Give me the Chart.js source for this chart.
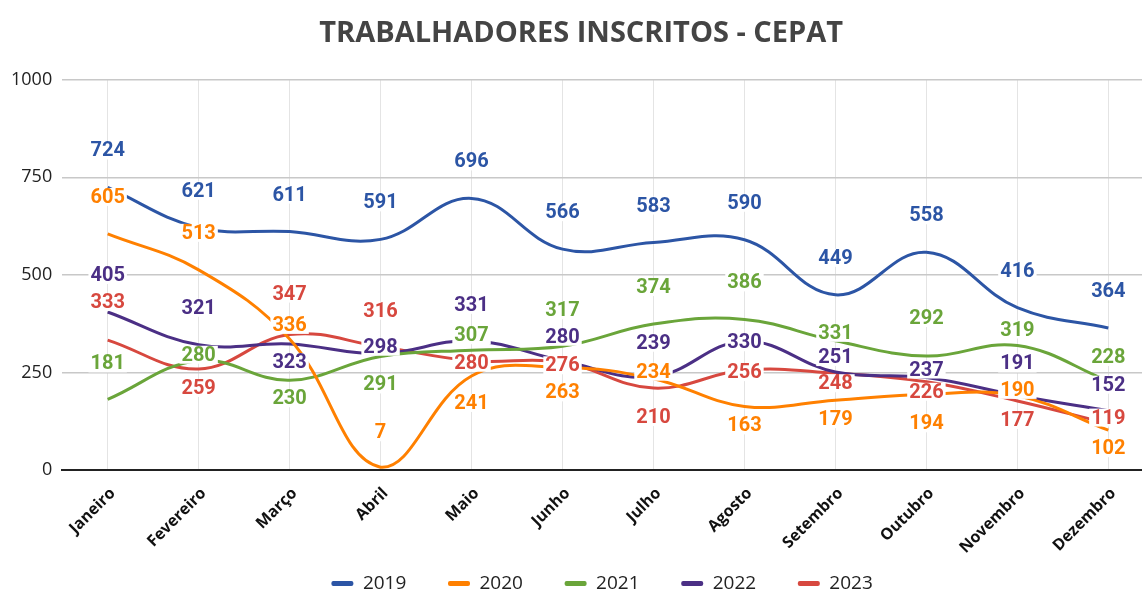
<!DOCTYPE html>
<html><head><meta charset="utf-8">
<script src="https://cdn.jsdelivr.net/npm/chart.js@4"></script>
<style>html,body{margin:0;padding:0;background:#fff}</style>
</head><body>
<canvas id="c" width="1142" height="593"></canvas>
<script>
// ---- data ----
const categories = ['Janeiro','Fevereiro','Março','Abril','Maio','Junho','Julho','Agosto','Setembro','Outubro','Novembro','Dezembro'];
const seriesNames = ['2019','2020','2021','2022','2023'];
const values2019 = [724,621,611,591,696,566,583,590,449,558,416,364];
const values2020 = [605,513,336,7,241,263,234,163,179,194,190,102];
const values2021 = [181,280,230,291,307,317,374,386,331,292,319,228];
const values2022 = [405,321,323,298,331,280,239,330,251,237,191,152];
const values2023 = [333,259,347,316,280,276,210,256,248,226,177,119];
const yTicks = [0,250,500,750,1000];

// ---- styling (label placement in px relative to each point, negative = above) ----
const colors = ['#2c55a5','#ff8000','#6aa53a','#4b2f85','#d7483f'];
const labelDy2019 = [-37,-37,-37,-37,-37,-37,-37,-37,-37,-37,-37,-37];
const labelDy2020 = [-37,-37,-14,-35,27,25,-7,19,19,29,-6,18];
const labelDy2021 = [-36,-6,18,28,-15,-36,-37,-37,-8,-38,-16,-24];
const labelDy2022 = [-37,-37,18,-7,-36,-24,-34,1,-15,-8,-32,-26];
const labelDy2023 = [-38,19,-41,-36,2,3,29,2,10,10,19,-6];

const seriesValues = [values2019, values2020, values2021, values2022, values2023];
const labelDy = [labelDy2019, labelDy2020, labelDy2021, labelDy2022, labelDy2023];

const pointLabels = {
  id: 'pointLabels',
  afterDatasetsDraw(chart) {
    const ctx = chart.ctx;
    ctx.save();
    ctx.font = 'bold 20px Roboto';
    ctx.textAlign = 'center';
    ctx.textBaseline = 'middle';
    chart.data.datasets.forEach((ds, di) => {
      const meta = chart.getDatasetMeta(di);
      meta.data.forEach((pt, i) => {
        const txt = String(seriesValues[di][i]);
        const x = pt.x, y = pt.y + labelDy[di][i];
        const w = ctx.measureText(txt).width;
        ctx.fillStyle = '#fff';
        ctx.fillRect(x - w / 2 - 2, y - 9, w + 4, 18);
        ctx.fillStyle = colors[di];
        ctx.fillText(txt, x, y + 1);
      });
    });
    ctx.restore();
  }
};

const legendGap = '\u2002\u2002\u2002\u2009';

new Chart(document.getElementById('c'), {
  type: 'line',
  data: {
    datasets: seriesNames.map((name, di) => ({
      label: name,
      data: seriesValues[di].map((v, i) => ({x: i, y: v})),
      borderColor: colors[di],
      backgroundColor: colors[di],
      borderWidth: 3,
      pointRadius: 0,
      tension: 0.4,
      fill: false
    }))
  },
  options: {
    responsive: false,
    animation: false,
    devicePixelRatio: 1,
    layout: {padding: {left: 1, right: 0, top: 0, bottom: -10}},
    plugins: {
      title: {
        display: true,
        text: '\u2002\u2009TRABALHADORES INSCRITOS - CEPAT',
        color: '#444',
        font: {family: 'Open Sans', size: 29, weight: 'bold', lineHeight: 1.2},
        padding: {top: 16, bottom: 29}
      },
      legend: {
        position: 'bottom',
        fullSize: false,
        labels: {
          boxWidth: 22,
          boxHeight: 5,
          padding: 10,
          color: '#222',
          font: {family: 'Open Sans', size: 19},
          generateLabels: (chart) => {
            const items = Chart.defaults.plugins.legend.labels.generateLabels(chart);
            return items.map((l, i) => Object.assign(l, {
              lineWidth: 0,
              borderRadius: 2,
              text: i < items.length - 1 ? l.text + legendGap : l.text
            }));
          }
        }
      },
      tooltip: {enabled: false}
    },
    scales: {
      x: {
        type: 'linear',
        min: -0.5,
        max: 11.37,
        afterBuildTicks: (axis) => { axis.ticks = categories.map((c, i) => ({value: i})); },
        afterFit: (scale) => { scale.height = 94; },
        grid: {color: '#e4e4e4', lineWidth: 1, drawTicks: false},
        border: {display: true, color: '#222', width: 2},
        ticks: {
          autoSkip: false,
          minRotation: 45,
          maxRotation: 45,
          padding: 14,
          labelOffset: 5,
          color: '#111',
          font: {family: 'Open Sans', size: 16, weight: 'bold'},
          callback: (v) => categories[Math.round(v)]
        }
      },
      y: {
        min: 0,
        max: 1000,
        afterBuildTicks: (axis) => { axis.ticks = yTicks.map(v => ({value: v})); },
        grid: {color: '#c8c8c8', lineWidth: 1.5, drawTicks: false},
        border: {display: false},
        ticks: {
          padding: 10,
          color: '#222',
          font: {family: 'Open Sans', size: 18},
          callback: (v) => String(v)
        }
      }
    }
  },
  plugins: [pointLabels]
});
</script>
</body></html>
